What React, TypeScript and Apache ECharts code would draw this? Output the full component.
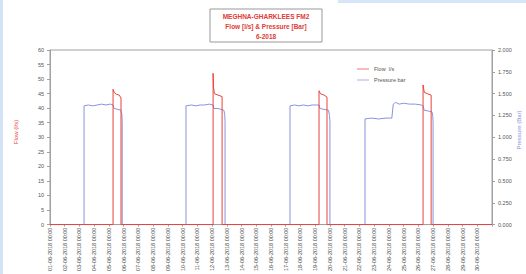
import React, { useEffect, useRef } from "react";
import * as echarts from "echarts";

const titleLines = ["MEGHNA-GHARKLEES FM2", "Flow [l/s] & Pressure [Bar]", "6-2018"];
const dayCount = 30;
const flowAxisTicks = [0, 60, 5];
const pressureAxisTicks = [0, 2, 0.25];

// Pressure (bar) time series, x in days from 01-06-2018
const pressureT = [0, 2.31, 2.31, 2.6, 2.9, 3.2, 3.5, 3.8, 4.1, 4.28, 4.35, 4.6, 4.82, 4.88, 4.9, 4.9,
  9.23, 9.23, 9.6, 9.9, 10.2, 10.5, 10.8, 11.07, 11.12, 11.4, 11.8, 11.86, 11.88, 11.88,
  16.29, 16.29, 16.6, 16.9, 17.2, 17.5, 17.8, 18.1, 18.26, 18.32, 18.6, 18.9, 18.97, 19.0, 19.0,
  21.38, 21.38, 21.8, 22.3, 22.8, 23.2, 23.3, 23.45, 23.7, 24.0, 24.4, 24.8, 25.2, 25.32, 25.4, 25.7, 25.93, 25.98, 26.0, 26.0, 30];
const pressureV = [0, 0, 1.36, 1.37, 1.36, 1.37, 1.38, 1.37, 1.38, 1.37, 1.33, 1.32, 1.31, 1.26, 1.18, 0,
  0, 1.36, 1.37, 1.36, 1.37, 1.37, 1.38, 1.37, 1.33, 1.33, 1.31, 1.26, 1.18, 0,
  0, 1.36, 1.37, 1.36, 1.37, 1.36, 1.37, 1.37, 1.37, 1.33, 1.32, 1.31, 1.25, 1.18, 0,
  0, 1.21, 1.22, 1.21, 1.22, 1.22, 1.38, 1.40, 1.38, 1.39, 1.38, 1.38, 1.37, 1.36, 1.31, 1.30, 1.29, 1.24, 1.17, 0, 0];

// Flow (l/s) time series
const flowT = [0, 4.28, 4.28, 4.35, 4.5, 4.7, 4.82, 4.82,
  11.07, 11.07, 11.1, 11.16, 11.4, 11.68, 11.68,
  18.26, 18.26, 18.35, 18.6, 18.8, 18.8,
  25.32, 25.32, 25.4, 25.6, 25.87, 25.87, 30];
const flowV = [0, 0, 46.5, 45.5, 44.8, 44.5, 43.5, 0,
  0, 52, 47, 45, 44.5, 44, 0,
  0, 46, 45, 44.5, 43.8, 0,
  0, 48, 45.5, 45, 44.5, 0, 0];

const pad = (n: number) => (n < 10 ? "0" + n : "" + n);

export default function App() {
  const ref = useRef<HTMLDivElement>(null);
  useEffect(() => {
    document.body.style.margin = "0";
    const chart = echarts.init(ref.current!, null, { renderer: "svg" });
    const red = "#e8433d";
    const blue = "#8a92dc";
    const axisGray = "#a0a0a0";
    const font = "Liberation Sans, Arial, sans-serif";
    chart.setOption({
      animation: false,
      backgroundColor: "#ffffff",
      textStyle: { fontFamily: font },
      grid: { left: 50, right: 34, top: 50, bottom: 44, show: true, borderColor: axisGray, borderWidth: 1 },
      legend: {
        orient: "vertical",
        left: 352,
        top: 61,
        itemWidth: 12,
        itemHeight: 4,
        itemGap: 5,
        icon: "path://M0,1L10,1L10,1.6L0,1.6Z",
        textStyle: { fontSize: 5.5, color: "#555" },
        data: ["Flow  l/s", "Pressure bar"],
      },
      graphic: [
        { type: "rect", shape: { x: 0, y: 0, width: 3, height: 274 }, style: { fill: "#d3e2f6" }, silent: true },
        { type: "rect", shape: { x: 338, y: 0, width: 188, height: 3 }, style: { fill: "#d6e5f7" }, silent: true },
        { type: "rect", shape: { x: 210, y: 9, width: 112, height: 33 }, style: { fill: "#fff", stroke: "#999", lineWidth: 1 } },
        ...titleLines.map((t, i) => ({
          type: "text",
          x: 266,
          y: 16 + i * 10,
          style: { text: t, fill: "#e03a34", font: "bold 6.5px " + font, align: "center", verticalAlign: "middle" },
        })),
        {
          type: "text",
          x: 16,
          y: 132,
          rotation: Math.PI / 2,
          style: { text: "Flow (l/s)", fill: red, font: "6px " + font, align: "center", verticalAlign: "middle" },
        },
        {
          type: "text",
          x: 519,
          y: 130,
          rotation: Math.PI / 2,
          style: { text: "Pressure (Bar)", fill: blue, font: "6px " + font, align: "center", verticalAlign: "middle" },
        },
      ],
      xAxis: {
        type: "value",
        min: 0,
        max: dayCount,
        interval: 1,
        splitLine: { show: false },
        axisLine: { lineStyle: { color: axisGray } },
        axisTick: { show: true, length: 2, lineStyle: { color: axisGray } },
        axisLabel: {
          rotate: 90,
          fontSize: 5.5,
          color: "#444",
          margin: 3,
          formatter: (v: number) => (v >= dayCount ? "" : pad(v + 1) + "-06-2018 00:00"),
        },
      },
      yAxis: [
        {
          type: "value",
          min: flowAxisTicks[0],
          max: flowAxisTicks[1],
          interval: flowAxisTicks[2],
          splitLine: { show: false },
          axisLine: { show: true, lineStyle: { color: axisGray } },
          axisTick: { show: true, length: 3, lineStyle: { color: axisGray } },
          axisLabel: { fontSize: 5.5, color: "#555", margin: 6 },
        },
        {
          type: "value",
          min: pressureAxisTicks[0],
          max: pressureAxisTicks[1],
          interval: pressureAxisTicks[2],
          splitLine: { show: false },
          axisLine: { show: true, lineStyle: { color: axisGray } },
          axisTick: { show: true, length: 3, lineStyle: { color: axisGray } },
          axisLabel: { fontSize: 5.5, color: "#555", margin: 6, formatter: (v: number) => v.toFixed(3) },
        },
      ],
      series: [
        {
          name: "Pressure bar",
          type: "line",
          yAxisIndex: 1,
          symbol: "none",
          lineStyle: { color: blue, width: 1 },
          itemStyle: { color: blue },
          data: pressureT.map((t, i) => [t, pressureV[i]]),
        },
        {
          name: "Flow  l/s",
          type: "line",
          yAxisIndex: 0,
          symbol: "none",
          lineStyle: { color: red, width: 1 },
          itemStyle: { color: red },
          data: flowT.map((t, i) => [t, flowV[i]]),
        },
      ],
    });
    return () => chart.dispose();
  }, []);
  return <div ref={ref} style={{ width: 526, height: 274 }} />;
}
